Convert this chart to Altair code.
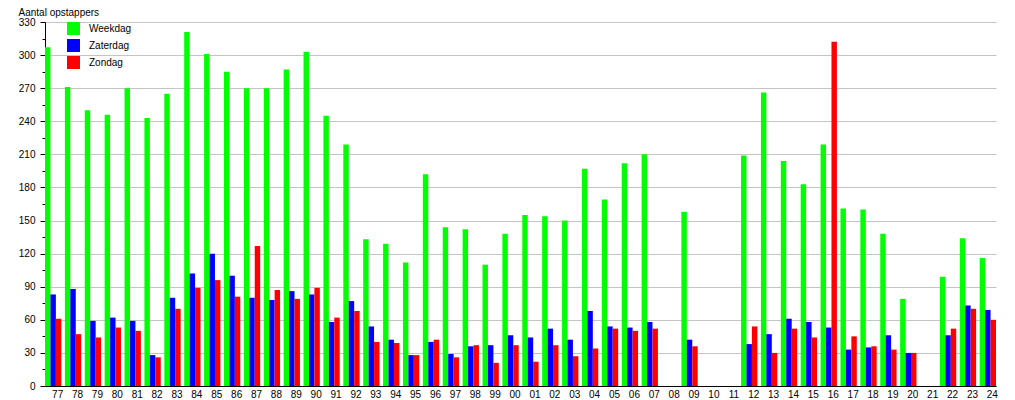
import altair as alt
import pandas as pd

years = ["77", "78", "79", "80", "81", "82", "83", "84", "85", "86", "87", "88",
         "89", "90", "91", "92", "93", "94", "95", "96", "97", "98", "99",
         "00", "01", "02", "03", "04", "05", "06", "07", "08", "09", "10", "11",
         "12", "13", "14", "15", "16", "17", "18", "19", "20", "21", "22", "23", "24"]

weekdag = [307, 271, 250, 246, 270, 243, 265, 321, 301, 285, 270, 270, 287, 303,
           245, 219, 133, 129, 112, 192, 144, 142, 110,
           138, 155, 154, 150, 197, 169, 202, 210, None, 158, None, None,
           209, 266, 204, 183, 219, 161, 160, 138, 79, None, 99, 134, 116]

zaterdag = [83, 88, 59, 62, 59, 28, 80, 102, 120, 100, 80, 78, 86, 83,
            58, 77, 54, 42, 28, 40, 29, 36, 37,
            46, 44, 52, 42, 68, 54, 53, 58, None, 42, None, None,
            38, 47, 61, 58, 53, 33, 35, 46, 30, None, 46, 73, 69]

zondag = [61, 47, 44, 53, 50, 26, 70, 89, 96, 81, 127, 87, 79, 89,
          62, 68, 40, 39, 28, 42, 26, 37, 21,
          37, 22, 37, 27, 34, 52, 50, 52, None, 36, None, None,
          54, 30, 52, 44, 312, 45, 36, 33, 30, None, 52, 70, 60]

series = ["Weekdag", "Zaterdag", "Zondag"]
colors = ["#00ff00", "#0000ff", "#ff0000"]

rows = []
for name, vals in zip(series, [weekdag, zaterdag, zondag]):
    for y, v in zip(years, vals):
        if v is not None:
            rows.append({"jaar": y, "serie": name, "aantal": v})
df = pd.DataFrame(rows)

FONT = "Liberation Sans"

chart = alt.Chart(df).mark_bar().encode(
    x=alt.X("jaar:N", sort=years,
            scale=alt.Scale(domain=years, paddingInner=0.18, paddingOuter=0),
            axis=alt.Axis(title=None, labelAngle=0, ticks=False, labelOffset=4.5,
                          labelPadding=3, labelFontSize=10, labelFont=FONT,
                          labelColor="black", domainColor="black", grid=False,
                          labelOverlap=False)),
    xOffset=alt.XOffset("serie:N", sort=series,
                        scale=alt.Scale(domain=series, paddingInner=0, paddingOuter=0)),
    y=alt.Y("aantal:Q",
            scale=alt.Scale(domain=[0, 330], nice=False),
            axis=alt.Axis(values=list(range(0, 331, 15)),
                          labelExpr="datum.value % 30 === 0 ? datum.label : ''",
                          tickSize={"condition": {"test": "datum.value % 30 === 0", "value": 5}, "value": 3},
                          gridOpacity={"condition": {"test": "datum.value % 30 === 0", "value": 1}, "value": 0},
                          gridColor="#c4c4c4", tickColor="black", domainColor="black",
                          labelPadding=5, labelFontSize=10, labelFont=FONT, labelColor="black",
                          title="Aantal opstappers", titleAngle=0, titleAlign="left",
                          titleX=-27, titleY=-6.5, titleBaseline="alphabetic",
                          titleFontSize=10, titleFontWeight="normal", titleFont=FONT,
                          titleColor="black")),
    color=alt.Color("serie:N", sort=series,
                    scale=alt.Scale(domain=series, range=colors),
                    legend=alt.Legend(title=None, orient="none", legendX=22, legendY=0,
                                      symbolType="square", symbolSize=169,
                                      symbolStrokeWidth=0, symbolOpacity=1,
                                      labelFontSize=10, labelFont=FONT, labelColor="black",
                                      labelOffset=9, rowPadding=4, padding=0)),
    order=alt.Order("serie:N")
).properties(
    width=951, height=364,
    autosize=alt.AutoSizeParams(type="none"),
    padding={"left": 37, "top": 14, "right": 10, "bottom": 13}
).configure_view(stroke=None).configure_bar(opacity=1)

chart.save("out.html", embed_options={"renderer": "svg", "actions": False})
